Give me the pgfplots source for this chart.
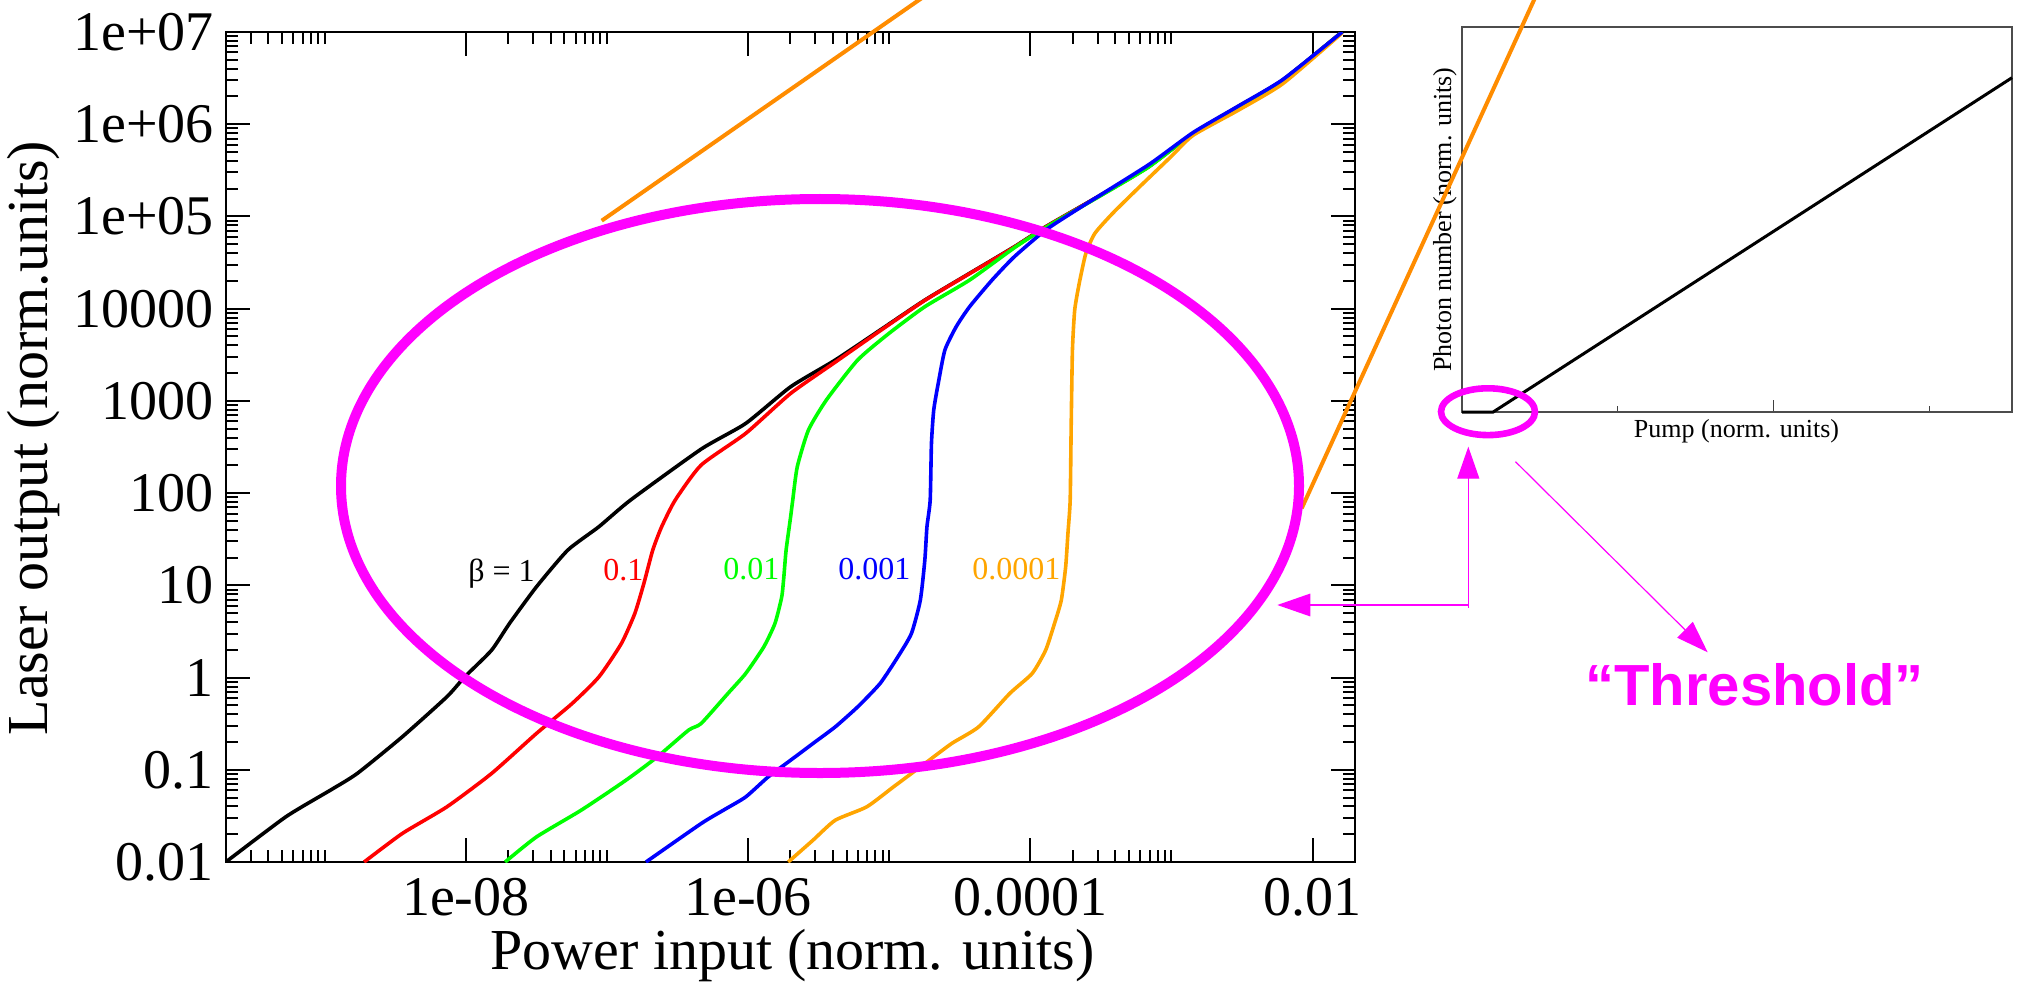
\documentclass[border=0pt]{standalone}
\usepackage{fontspec}
\setmainfont{Liberation Serif}
\newfontfamily\sansfont{Liberation Sans}
\usepackage{pgfplots}
\pgfplotsset{compat=1.18}
\usepackage{pgfplotstable}
\usetikzlibrary{arrows.meta}
\definecolor{xgorange}{RGB}{255,165,0}
\definecolor{lineorange}{RGB}{255,140,0}
\definecolor{xggreen}{RGB}{0,255,0}
\definecolor{xgblue}{RGB}{0,0,255}
\definecolor{xgred}{RGB}{255,0,0}
\definecolor{mag}{RGB}{255,0,255}

% log10 of (power input, laser output)
\pgfplotstableread{
lx ly
-9.700 -2.000
-9.275 -1.510
-8.958 -1.220
-8.769 -1.040
-8.450 -0.643
-8.134 -0.209
-8.007 0.008
-7.817 0.297
-7.690 0.587
-7.499 0.984
-7.277 1.382
-7.057 1.635
-6.833 1.924
-6.332 2.477
-6.016 2.756
-5.698 3.153
-5.382 3.443
-5.064 3.768
-4.747 4.093
-4.430 4.383
-4.113 4.671
-3.891 4.888
-3.479 5.251
-3.162 5.539
-2.846 5.901
-2.528 6.190
-2.210 6.479
-1.790 7.000
}\betaone

\pgfplotstableread{
lx ly
-8.720 -2.000
-8.450 -1.691
-8.134 -1.402
-7.817 -1.040
-7.499 -0.606
-7.246 -0.281
-7.056 0.008
-6.897 0.370
-6.802 0.695
-6.738 1.020
-6.675 1.382
-6.612 1.635
-6.516 1.924
-6.332 2.304
-6.016 2.648
-5.698 3.081
-5.382 3.420
-5.064 3.760
-4.747 4.090
-4.430 4.380
-4.113 4.668
-3.891 4.886
-3.479 5.250
-3.162 5.539
-2.846 5.901
-2.528 6.190
-2.210 6.479
-1.790 7.000
}\betatenth

\pgfplotstableread{
lx ly
-7.721 -2.000
-7.499 -1.728
-7.182 -1.438
-6.865 -1.113
-6.643 -0.860
-6.421 -0.570
-6.332 -0.498
-6.142 -0.172
-6.016 0.045
-5.888 0.333
-5.809 0.587
-5.761 0.875
-5.746 1.092
-5.730 1.382
-5.698 1.743
-5.683 1.924
-5.651 2.285
-5.572 2.683
-5.445 3.009
-5.223 3.443
-5.001 3.732
-4.747 4.021
-4.430 4.310
-4.113 4.660
-3.891 4.880
-3.479 5.245
-3.162 5.535
-2.846 5.900
-2.528 6.190
-2.210 6.479
-1.790 7.000
}\betahundredth

\pgfplotstableread{
lx ly
-6.723 -2.000
-6.332 -1.583
-6.174 -1.438
-6.016 -1.294
-5.857 -1.077
-5.698 -0.896
-5.540 -0.715
-5.382 -0.535
-5.223 -0.318
-5.064 -0.064
-4.938 0.225
-4.842 0.478
-4.779 0.839
-4.747 1.273
-4.732 1.635
-4.709 1.924
-4.700 2.539
-4.684 2.900
-4.652 3.190
-4.605 3.551
-4.525 3.804
-4.430 4.021
-4.271 4.310
-4.113 4.563
-3.891 4.852
-3.637 5.105
-3.162 5.560
-2.846 5.910
-2.528 6.195
-2.210 6.485
-1.790 7.000
}\betathousandth

\pgfplotstableread{
lx ly
-5.715 -2.000
-5.540 -1.764
-5.382 -1.547
-5.159 -1.402
-4.969 -1.185
-4.747 -0.932
-4.557 -0.715
-4.366 -0.535
-4.145 -0.172
-3.986 0.045
-3.891 0.297
-3.828 0.587
-3.780 0.839
-3.749 1.201
-3.733 1.563
-3.717 1.924
-3.710 2.719
-3.701 3.551
-3.685 3.985
-3.653 4.274
-3.606 4.600
-3.542 4.817
-3.416 5.034
-3.225 5.322
-3.003 5.648
-2.846 5.880
-2.528 6.150
-2.210 6.440
-1.790 6.990
}\betatenthousandth

\begin{document}
\begin{tikzpicture}
\path[use as bounding box] (0,0) rectangle (1012pt,496.5pt);

% ---------------- main plot ----------------
\begin{axis}[
  at={(113pt,65.5pt)}, anchor=south west,
  width=564.5pt, height=415pt, scale only axis,
  xmode=log, ymode=log,
  xmin=2e-10, xmax=2e-2, ymin=0.01, ymax=1e7,
  xtick={1e-8,1e-6,1e-4,1e-2},
  xticklabels={1e-08,1e-06,0.0001,0.01},
  minor xtick={3e-10,4e-10,5e-10,6e-10,7e-10,8e-10,9e-10,1e-9,
    2e-8,3e-8,4e-8,5e-8,6e-8,7e-8,8e-8,9e-8,1e-7,
    2e-6,3e-6,4e-6,5e-6,6e-6,7e-6,8e-6,9e-6,1e-5,
    2e-4,3e-4,4e-4,5e-4,6e-4,7e-4,8e-4,9e-4,1e-3},
  ytick={1e-2,1e-1,1,10,100,1000,1e4,1e5,1e6,1e7},
  yticklabels={0.01,0.1,1,10,100,1000,10000,1e+05,1e+06,1e+07},
  minor ytick={0.02,0.03,0.04,0.05,0.06,0.07,0.08,0.09,
    0.2,0.3,0.4,0.5,0.6,0.7,0.8,0.9,
    2,3,4,5,6,7,8,9,
    20,30,40,50,60,70,80,90,
    200,300,400,500,600,700,800,900,
    2000,3000,4000,5000,6000,7000,8000,9000,
    2e4,3e4,4e4,5e4,6e4,7e4,8e4,9e4,
    2e5,3e5,4e5,5e5,6e5,7e5,8e5,9e5,
    2e6,3e6,4e6,5e6,6e6,7e6,8e6,9e6},
  tick pos=both, tick align=inside,
  major tick length=12pt, minor tick length=6.25pt,
  tick style={black, line width=1pt},
  axis line style={black, line width=1pt},
  ticklabel style={font=\fontsize{28}{28}\selectfont, inner sep=0pt},
  xticklabel style={anchor=north, yshift=-8pt},
  yticklabel style={anchor=east, xshift=-6pt},
  xlabel={Power input (norm. units)},
  ylabel={Laser output (norm.units)},
  label style={font=\fontsize{29}{29}\selectfont, inner sep=0pt},
  xlabel style={at={(axis description cs:0.502,-0.1301)}, anchor=base},
  ylabel style={at={(axis description cs:-0.1577,0.5108)}, anchor=base},
  every axis plot/.append style={line width=1.8pt, smooth, tension=0.35, line join=round},
]
\addplot[black] table[x expr={10^(\thisrow{lx})}, y expr={10^(\thisrow{ly})}] {\betaone};
\addplot[xgred] table[x expr={10^(\thisrow{lx})}, y expr={10^(\thisrow{ly})}] {\betatenth};
\addplot[xggreen] table[x expr={10^(\thisrow{lx})}, y expr={10^(\thisrow{ly})}] {\betahundredth};
\addplot[xgorange] table[x expr={10^(\thisrow{lx})}, y expr={10^(\thisrow{ly})}] {\betatenthousandth};
\addplot[xgblue] table[x expr={10^(\thisrow{lx})}, y expr={10^(\thisrow{ly})}] {\betathousandth};
\end{axis}

% ---------------- inset plot ----------------
\begin{axis}[
  at={(731pt,290.5pt)}, anchor=south west,
  width=275pt, height=192.5pt, scale only axis,
  xmin=0, xmax=3.53, ymin=0, ymax=12,
  xtick={2}, minor xtick={1,3},
  ytick=\empty, minor ytick={1,2,3,4,5,6,7,8,9,10,11},
  xticklabels={}, yticklabels={},
  tick pos=left, tick align=inside,
  major tick length=6pt, minor tick length=3pt,
  tick style={black!75, line width=0.6pt},
  axis line style={black!70, line width=0.75pt},
  clip=false,
  xlabel={Pump (norm. units)},
  ylabel={Photon number (norm. units)},
  label style={font=\fontsize{13}{13}\selectfont, inner sep=0pt},
  xlabel style={at={(axis description cs:0.499,-0.065)}, anchor=base},
  ylabel style={at={(axis description cs:-0.02,0.5)}, anchor=base},
]
\addplot[black, line width=1.5pt] coordinates {(0,0) (0.2,0) (3.53,10.42)};
\end{axis}

% ---------------- annotations (pixel coordinates of the reference) ----------------
\begin{scope}[x=0.5pt, y=-0.5pt, yshift=496.5pt]
  \draw[lineorange, line width=2pt] (601.7,220.7) -- (933.4,-10);
  \draw[lineorange, line width=2pt] (1301.7,508.3) -- (1538.6,-10);
  \node[anchor=base west, inner sep=0, font=\fontsize{16}{16}\selectfont] at (468,581) {β = 1};
  \node[anchor=base west, inner sep=0, text=xgred, font=\fontsize{16}{16}\selectfont] at (603,580) {0.1};
  \node[anchor=base west, inner sep=0, text=xggreen, font=\fontsize{16}{16}\selectfont] at (723,579) {0.01};
  \node[anchor=base west, inner sep=0, text=xgblue, font=\fontsize{16}{16}\selectfont] at (838,579) {0.001};
  \node[anchor=base west, inner sep=0, text=xgorange, font=\fontsize{16}{16}\selectfont] at (972,579) {0.0001};
  \draw[mag, line width=5pt] (820,486) ellipse [x radius=239.5pt, y radius=143.5pt];
  \draw[mag, line width=3.3pt] (1488,411.7) ellipse [x radius=23.5pt, y radius=11.7pt];
  \draw[mag, line width=0.6pt, {Triangle[length=16pt,width=11pt]}-{Triangle[length=16.5pt,width=11.3pt]}]
    (1468.3,446.7) -- (1468.3,605) -- (1277.3,605);
  \draw[mag, line width=0.6pt] (1468.3,605) -- (1468.3,608);
  \draw[mag, line width=0.6pt, -{Triangle[length=16pt,width=11pt]}] (1515.5,461.7) -- (1707.7,652.3);
  \node[anchor=base west, inner sep=0, text=mag, font=\sansfont\bfseries\fontsize{29}{29}\selectfont] at (1585,705) {“Threshold”};
\end{scope}
\end{tikzpicture}
\end{document}
